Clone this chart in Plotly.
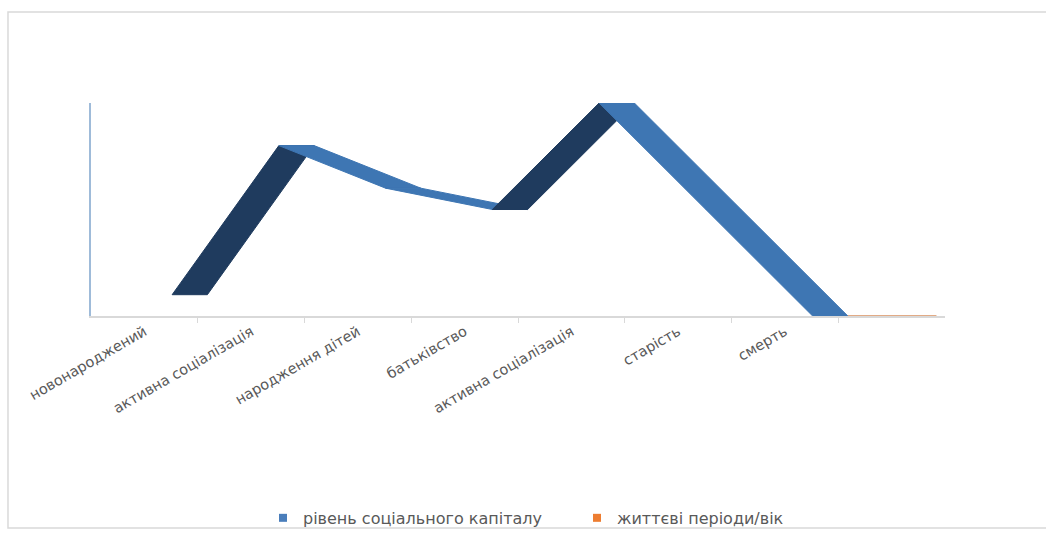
import plotly.graph_objects as go

# ---- data ----
categories = ["новонароджений", "активна соціалізація", "народження дітей", "батьківство",
              "активна соціалізація", "старість", "смерть", ""]
social_capital = [1, 8, 6, 5, 10, 5, 0]          # рівень соціального капіталу
life_periods = [None, None, None, None, None, None, 0, 0]  # життєві періоди/вік

series_names = ["рівень соціального капіталу", "життєві періоди/вік"]

# ---- style ----
FRONT = 0.26   # offset of ribbon front edge from category centre (category units)
DEPTH = 0.33   # ribbon depth (category units)
DARK = "#1f3b5e"
LIGHT = "#3e76b3"
ORANGE = "#d98f5e"
TXT = "#595959"
FONT = "DejaVu Sans"

fig = go.Figure()

# ribbon segments
n = len(social_capital)
for i in range(n - 1):
    x0, x1 = i + FRONT, i + 1 + FRONT
    y0, y1 = social_capital[i], social_capital[i + 1]
    col = DARK if y1 > y0 else LIGHT
    fig.add_trace(go.Scatter(
        x=[x0, x1, x1 + DEPTH, x0 + DEPTH, x0],
        y=[y0, y1, y1, y0, y0],
        mode="lines", fill="toself", fillcolor=col,
        line=dict(color=col, width=1),
        hoverinfo="skip", showlegend=False))

# orange series (flat, visible after the ribbon)
ox = [i + FRONT + DEPTH if v is not None else None for i, v in enumerate(life_periods)]
ox = [x if x is None else min(x, 7.42) for x in ox]
fig.add_trace(go.Scatter(x=ox, y=life_periods, mode="lines",
                         line=dict(color=ORANGE, width=1.5),
                         hoverinfo="skip", showlegend=False))

# legend entries
fig.add_trace(go.Scatter(x=[None], y=[None], mode="markers", name=series_names[0],
                         marker=dict(symbol="square", size=8, color="#4a7ebb")))
fig.add_trace(go.Scatter(x=[None], y=[None], mode="markers", name=series_names[1],
                         marker=dict(symbol="square", size=8, color="#ed7d31")))

fig.update_layout(
    width=1046, height=534,
    margin=dict(l=91, r=101, t=103, b=218, autoexpand=False),
    paper_bgcolor="white", plot_bgcolor="white",
    font=dict(family=FONT, size=12, color=TXT),
    legend=dict(orientation="h", x=0.2014, y=-0.948, xanchor="left", yanchor="middle",
                font=dict(family=FONT, size=16, color=TXT), itemwidth=30,
                entrywidth=269, entrywidthmode="pixels",
                bgcolor="rgba(0,0,0,0)", traceorder="normal", tracegroupgap=0),
    xaxis=dict(range=[-0.5, 7.5], showgrid=False, zeroline=False, automargin=False,
               layer="below traces",
               tickmode="array", tickvals=list(range(len(categories))), ticktext=categories,
               tickangle=-30, ticks="", showline=True, linecolor="#d9d9d9", linewidth=1.5,
               tickfont=dict(family=FONT, size=14.5, color=TXT),
               minor=dict(tickmode="array", tickvals=[i + 0.5 for i in range(7)],
                          ticks="outside", ticklen=5, tickcolor="#d9d9d9", showgrid=False)),
    yaxis=dict(range=[0, 10], showgrid=False, zeroline=False, showticklabels=False,
               automargin=False, layer="below traces",
               ticks="", showline=True, linecolor="#9fbbd9", linewidth=2),
    shapes=[dict(type="rect", xref="paper", yref="paper",
                 x0=-0.0972, x1=1.2, y0=-0.995, y1=1.427,
                 line=dict(color="#d9d9d9", width=1.5), layer="below")],
)

fig.write_html("out.html")
